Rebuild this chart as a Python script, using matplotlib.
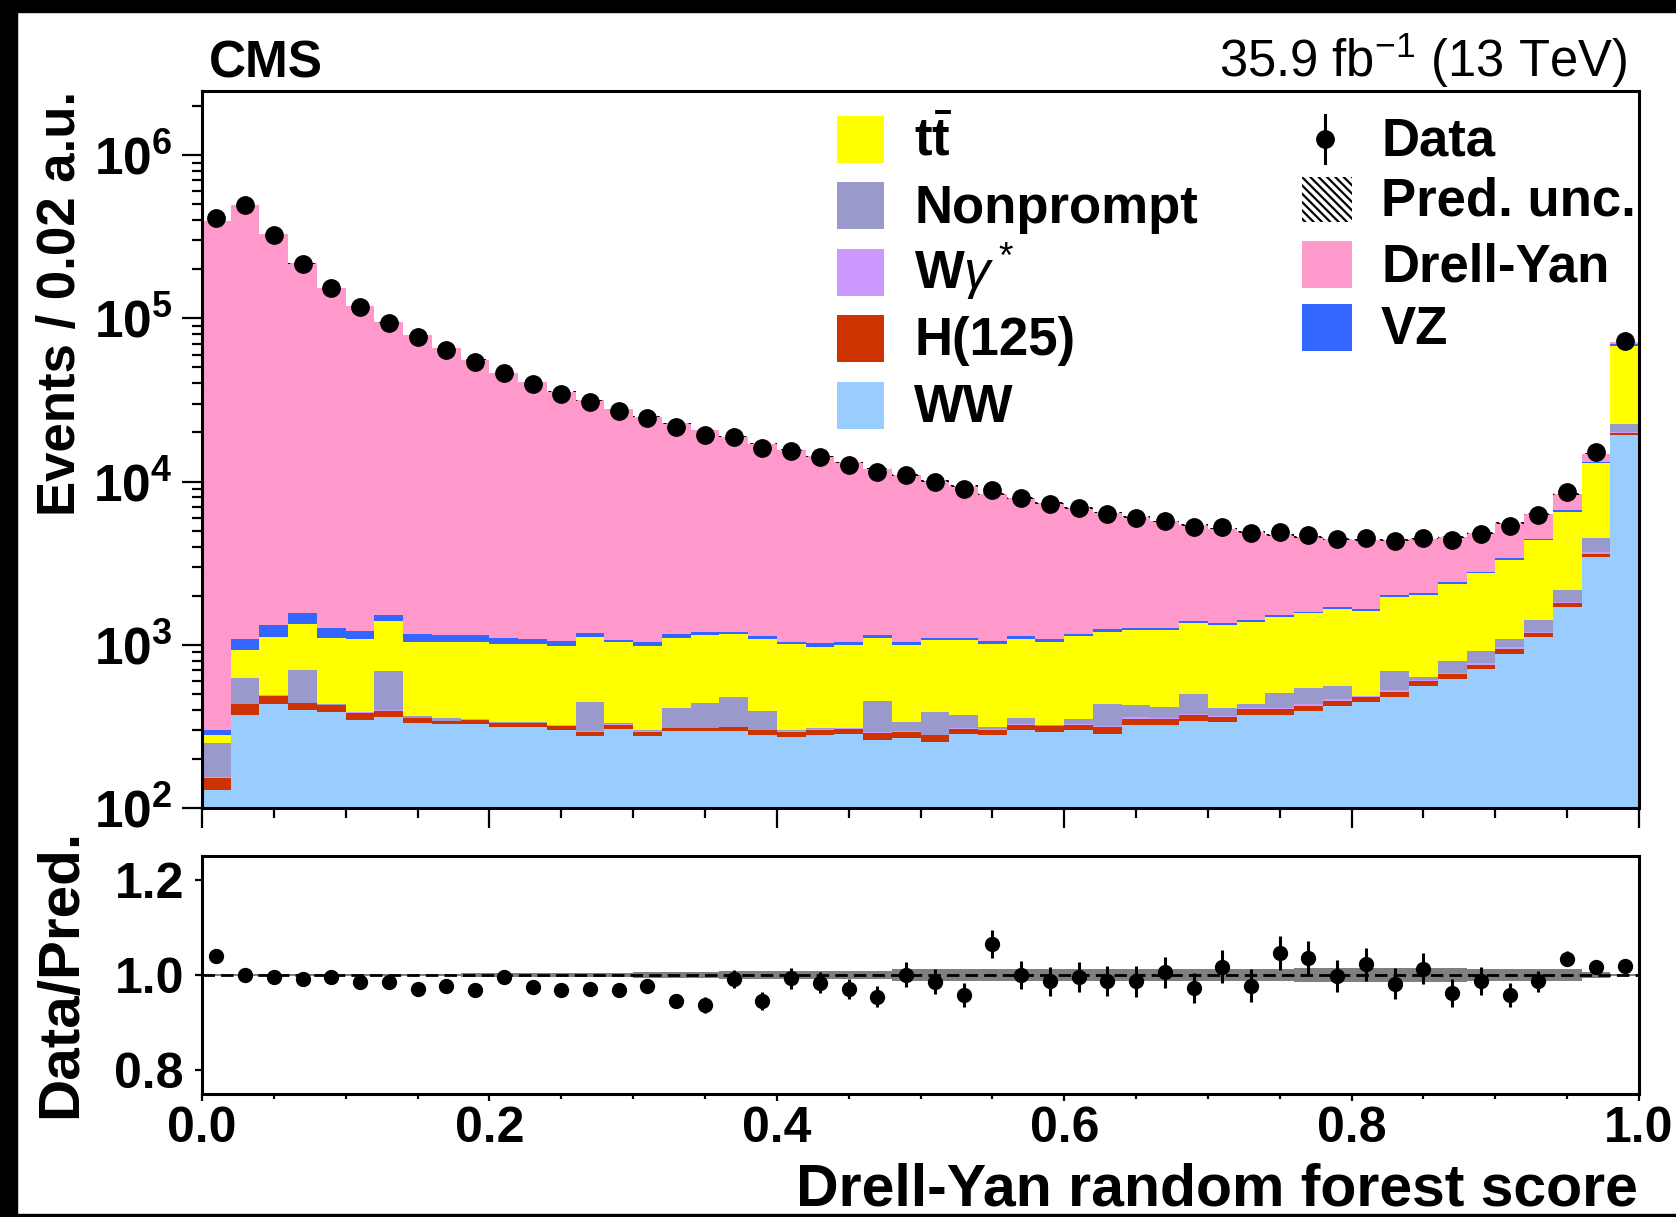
import numpy as np
import matplotlib
matplotlib.use("Agg")
import matplotlib.pyplot as plt
import matplotlib.transforms as mtransforms
from matplotlib.patches import Rectangle
from matplotlib.lines import Line2D
from matplotlib.ticker import FixedLocator, LogLocator, MultipleLocator, NullFormatter

W, H = 1676, 1217

# 50 bins of width 0.02 on [0, 1]
edges = np.linspace(0.0, 1.0, 51)

ww = [129, 372, 434, 401, 385, 348, 360, 332, 328, 326,
      315, 315, 301, 276, 305, 276, 295, 295, 295, 281,
      274, 279, 284, 261, 268, 252, 284, 279, 302, 294,
      300, 284, 321, 321, 343, 338, 369, 371, 395, 424,
      444, 481, 559, 617, 707, 878, 1120, 1695, 3431, 19270]
h125 = [23, 60, 54, 37, 42, 35, 34, 22, 12, 20,
        15, 15, 18, 17, 19, 17, 14, 14, 18, 18,
        18, 22, 21, 26, 23, 27, 22, 21, 22, 23,
        24, 29, 32, 32, 30, 25, 37, 31, 29, 31,
        32, 35, 41, 42, 45, 64, 66, 99, 166, 640]
wgamma = [2, 3, 2, 2, 2, 3, 3, 3, 3, 3,
          2, 2, 2, 2, 2, 2, 2, 2, 2, 2,
          4, 3, 3, 5, 4, 3, 3, 4, 3, 3,
          3, 6, 6, 4, 4, 4, 4, 5, 8, 10,
          9, 12, 8, 16, 25, 31, 17, 42, 86, 290]
nonprompt = [97, 192, 4, 261, 4, 4, 296, 7, 12, 4,
             4, 4, 3, 151, 4, 4, 100, 129, 165, 92,
             4, 4, 2, 160, 43, 107, 60, 9, 30, 2,
             24, 115, 69, 61, 122, 41, 22, 97, 114, 94,
             3, 163, 30, 120, 138, 107, 215, 329, 804, 2300]
ttbar = [28, 308, 625, 648, 669, 694, 703, 683, 692, 680,
         677, 677, 662, 673, 703, 687, 693, 703, 686, 691,
         706, 665, 682, 653, 663, 675, 700, 702, 733, 722,
         786, 769, 803, 819, 854, 919, 940, 968, 1011, 1097,
         1130, 1279, 1389, 1572, 1823, 2240, 2964, 4370, 8433, 45450]
vz = [20, 156, 205, 214, 158, 138, 118, 111, 96, 110,
      91, 71, 68, 62, 36, 47, 54, 54, 39, 43,
      38, 47, 47, 42, 38, 31, 36, 39, 41, 36,
      32, 40, 41, 35, 45, 39, 46, 49, 38, 39,
      30, 47, 38, 45, 52, 62, 83, 155, 310, 1250]
drellyan = [394700, 494400, 325700, 215400, 152700, 117800, 92900, 78240, 64360, 54660,
            45200, 39520, 34450, 30220, 26730, 23970, 21640, 19500, 17600, 15970,
            14560, 13280, 12060, 10850, 9960, 9005, 8295, 7296, 6819, 6320,
            5731, 5207, 4778, 4428, 4002, 3784, 3502, 3199, 2975, 2765,
            2752, 2363, 2355, 2138, 2030, 2168, 1835, 1710, 1600, 2500]
data = [411000, 496000, 325700, 215000, 153200, 117200, 93000, 77000, 64000, 54100,
        46100, 39600, 34400, 30500, 26900, 24400, 21550, 19400, 18630, 16160,
        15490, 14070, 12710, 11450, 11010, 9960, 9005, 8893, 7950, 7300,
        6870, 6370, 5970, 5730, 5250, 5240, 4810, 4940, 4730, 4450,
        4500, 4300, 4480, 4380, 4760, 5317, 6220, 8690, 15070, 73130]
# half-width of data error bar, relative to prediction (as seen in ratio panel)
ratio_err = [0.002, 0.002, 0.002, 0.003, 0.003, 0.003, 0.004, 0.004, 0.005, 0.005,
             0.006, 0.006, 0.007, 0.007, 0.008, 0.009, 0.015, 0.017, 0.019, 0.019,
             0.022, 0.022, 0.021, 0.022, 0.026, 0.026, 0.026, 0.030, 0.030, 0.030,
             0.031, 0.031, 0.032, 0.032, 0.032, 0.034, 0.034, 0.036, 0.036, 0.034,
             0.035, 0.033, 0.033, 0.030, 0.029, 0.025, 0.022, 0.016, 0.010, 0.006]
# relative prediction uncertainty
pred_unc = [0.002, 0.002, 0.002, 0.002, 0.002, 0.002, 0.002, 0.002, 0.002, 0.004,
            0.004, 0.004, 0.004, 0.004, 0.004, 0.006, 0.006, 0.006, 0.009, 0.009,
            0.009, 0.009, 0.009, 0.009, 0.012, 0.012, 0.012, 0.012, 0.012, 0.012,
            0.012, 0.012, 0.012, 0.012, 0.012, 0.012, 0.012, 0.012, 0.015, 0.015,
            0.015, 0.015, 0.015, 0.015, 0.012, 0.012, 0.012, 0.012, 0.006, 0.002]

stack = [("WW", ww, "#99ccff"),
         ("H(125)", h125, "#cc3300"),
         (r"W$\gamma^*$", wgamma, "#cc99ff"),
         ("Nonprompt", nonprompt, "#9999cc"),
         (r"$\mathbf{t\bar{t}}$", ttbar, "#ffff00"),
         ("VZ", vz, "#3366ff"),
         ("Drell-Yan", drellyan, "#ff99cc")]

plt.rcParams['font.family'] = ['Liberation Sans', 'DejaVu Sans']
plt.rcParams['font.weight'] = 'bold'
plt.rcParams['mathtext.fontset'] = 'custom'
plt.rcParams['mathtext.rm'] = 'Liberation Sans:weight=normal'
plt.rcParams['mathtext.bf'] = 'Liberation Sans:bold'
plt.rcParams['mathtext.it'] = 'Liberation Sans:italic:weight=normal'
plt.rcParams['hatch.linewidth'] = 1.6
plt.rcParams['axes.linewidth'] = 2.2

fig = plt.figure(figsize=(W / 100, H / 100), dpi=100)
# pixel coordinates measured from the top-left corner of the image
px = mtransforms.Affine2D().scale(1.0 / W, -1.0 / H).translate(0, 1) + fig.transFigure


def frac(x0, y0, x1, y1):
    return [x0 / W, 1 - y1 / H, (x1 - x0) / W, (y1 - y0) / H]


ax = fig.add_axes(frac(202, 91, 1639, 808))
rax = fig.add_axes(frac(202, 856, 1639, 1094))

centers = 0.5 * (edges[:-1] + edges[1:])
bottom = np.zeros(len(centers))
for name, vals, col in stack:
    top = bottom + np.array(vals, dtype=float)
    ax.stairs(top, edges, baseline=np.maximum(bottom, 1.0), fill=True, color=col, lw=0)
    bottom = top
total = bottom

unc = np.array(pred_unc)
ax.stairs(total * (1 + unc), edges, baseline=total * (1 - unc), fill=True,
          facecolor='none', edgecolor='k', hatch='\\\\\\\\', lw=0)

data = np.array(data, dtype=float)
rerr = np.array(ratio_err)
ax.errorbar(centers, data, yerr=rerr * total, fmt='o', color='k', ms=12.5,
            elinewidth=2.2, capsize=0)

ax.set_yscale('log')
ax.set_xlim(0, 1)
ax.set_ylim(100, 2.47e6)
ax.yaxis.set_major_locator(FixedLocator([1e2, 1e3, 1e4, 1e5, 1e6]))
ax.set_yticklabels([r'$\mathbf{10^{%d}}$' % e for e in range(2, 7)])
ax.yaxis.set_minor_locator(LogLocator(base=10, subs=np.arange(2, 10)))
ax.yaxis.set_minor_formatter(NullFormatter())
ax.xaxis.set_major_locator(MultipleLocator(0.2))
ax.xaxis.set_minor_locator(MultipleLocator(0.05))
ax.tick_params(which='both', direction='out', top=False, right=False,
               labelbottom=False, width=1.6)
ax.tick_params(which='major', length=14.4)
ax.tick_params(which='minor', length=7.2)
ax.tick_params(axis='y', labelsize=37, pad=7)

# ratio panel
ratio = data / total
rax.stairs(1 + unc, edges, baseline=1 - unc, fill=True, color='#808080', lw=0)
rax.axhline(1.0, color='k', lw=2.0, ls=(0, (4.5, 2.2)))
rax.errorbar(centers, ratio, yerr=rerr, fmt='o', color='k', ms=10,
             elinewidth=2.2, capsize=0)
rax.set_xlim(0, 1)
rax.set_ylim(0.75, 1.25)
rax.yaxis.set_major_locator(FixedLocator([0.8, 1.0, 1.2]))
rax.yaxis.set_major_formatter(plt.FormatStrFormatter('%.1f'))
rax.xaxis.set_major_locator(MultipleLocator(0.2))
rax.xaxis.set_major_formatter(plt.FormatStrFormatter('%.1f'))
rax.xaxis.set_minor_locator(MultipleLocator(0.05))
rax.tick_params(which='both', direction='out', top=False, right=False, width=1.6,
                labelsize=36)
rax.tick_params(which='major', length=5)
rax.tick_params(which='minor', length=3.6)
rax.tick_params(axis='y', pad=8)
rax.tick_params(axis='x', pad=4)

# labels
fig.text(61, 91, "Events / 0.02 a.u.", transform=px, rotation=90,
         ha='center', va='top', fontsize=38)
fig.text(61, 973, "Data/Pred.", transform=px, rotation=90,
         ha='center', va='center', fontsize=42)
fig.text(1638, 1205, "Drell-Yan random forest score", transform=px,
         ha='right', va='baseline', fontsize=42.5)
fig.text(209, 77, "CMS", transform=px, ha='left', va='baseline', fontsize=37)
fig.text(1627, 77, r"35.9 fb$^{-1}$ (13 TeV)", transform=px, ha='right',
         va='baseline', fontsize=36.5, fontweight='normal')

# legend, left column
left_entries = [stack[4], stack[3], stack[2], stack[1], stack[0]]
for i, (name, vals, col) in enumerate(left_entries):
    yc = 139 + 66.5 * i
    fig.add_artist(Rectangle((837, yc - 23.5), 47, 47, transform=px,
                             facecolor=col, edgecolor='none'))
    fig.text(914, yc + 17, name, transform=px, ha='left', va='baseline', fontsize=38)

# legend, right column
fig.add_artist(Line2D([1325, 1325], [115, 163], transform=px, color='k', lw=2.2))
fig.add_artist(Line2D([1325], [139], transform=px, color='k', marker='o', ms=12.5, ls='none'))
fig.text(1381, 139 + 17, "Data", transform=px, ha='left', va='baseline', fontsize=38)
fig.add_artist(Rectangle((1302, 177), 50, 45, transform=px, facecolor='none',
                         edgecolor='k', hatch='\\\\\\\\', lw=0))
fig.text(1381, 199 + 17, "Pred. unc.", transform=px, ha='left', va='baseline', fontsize=38)
for i, (name, vals, col) in enumerate([stack[6], stack[5]]):
    yc = 264 + 63 * i
    fig.add_artist(Rectangle((1302, yc - 23.5), 50, 47, transform=px,
                             facecolor=col, edgecolor='none'))
    fig.text(1381, yc + 17, name, transform=px, ha='left', va='baseline', fontsize=38)

# black frame of the original image
fig.add_artist(Rectangle((0, 0), 17, H, transform=px, color='k', zorder=10))
fig.add_artist(Rectangle((0, 0), W, 12, transform=px, color='k', zorder=10))
fig.add_artist(Rectangle((0, H - 3), W, 3, transform=px, color='k', zorder=10))

fig.savefig("out.png", dpi=100)
